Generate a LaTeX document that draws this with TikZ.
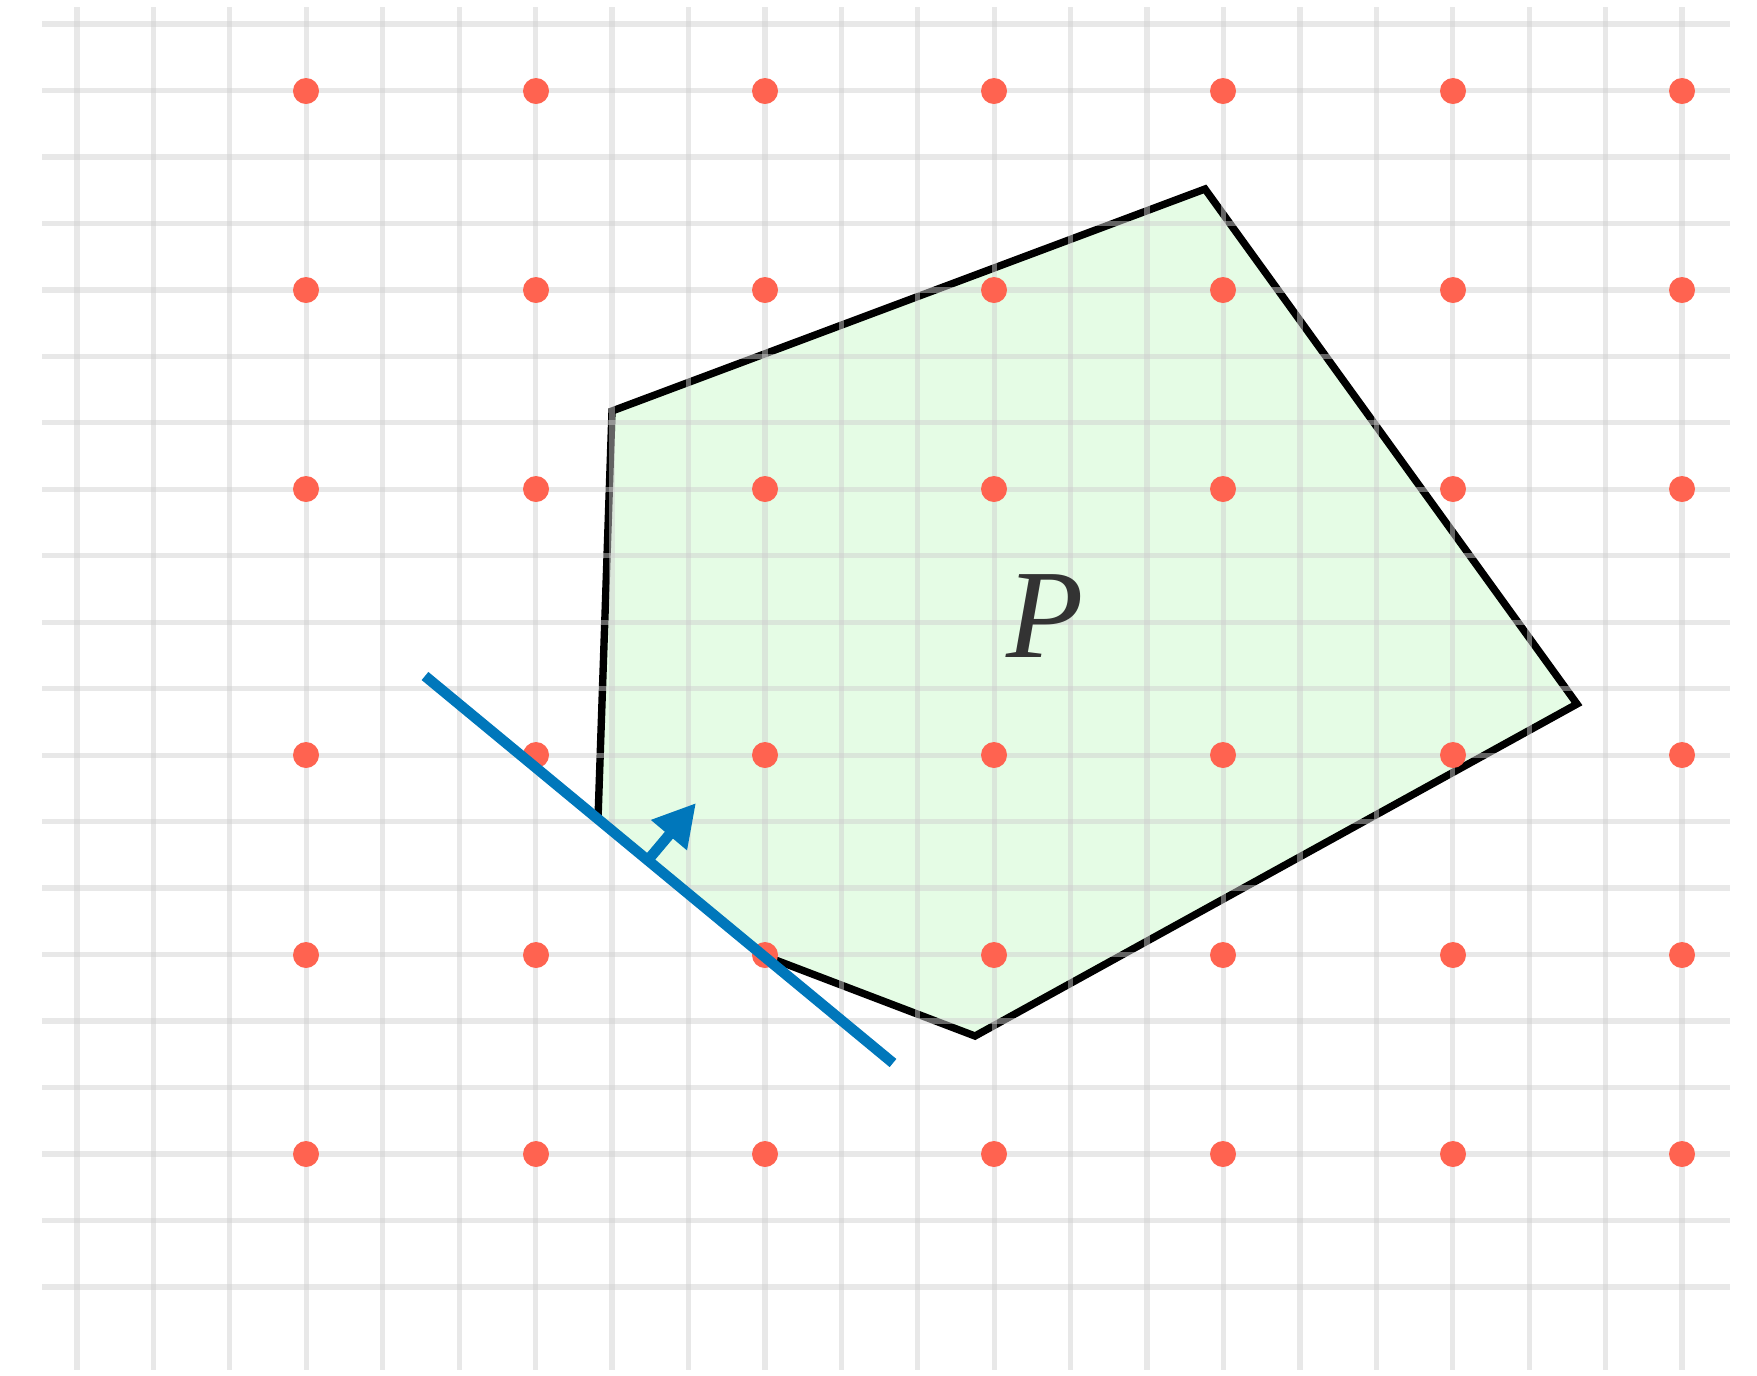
\documentclass[tikz,border=0pt]{standalone}
\usepackage{fontspec}
\setmainfont{Liberation Serif}
\usetikzlibrary{arrows.meta}

\definecolor{gridgray}{RGB}{207,207,207}
\definecolor{dotred}{RGB}{255,99,80}
\definecolor{cutblue}{RGB}{0,119,187}
\definecolor{polyfill}{RGB}{229,252,229}
\definecolor{labelgray}{RGB}{51,51,51}

\tikzset{
	gridline/.style={draw=gridgray, line width=1.5pt, opacity=0.48},
	lattice/.style={circle, fill=dotred, inner sep=0pt, minimum size=0.26cm},
	polyedge/.style={draw=black, line width=2.1pt, fill=polyfill, line join=miter},
	cutline/.style={draw=cutblue, line width=3pt},
}

\begin{document}
\begin{tikzpicture}[x=0.01cm, y=-0.01cm]
	\useasboundingbox (0,0) rectangle (1757,1375);
	
	% polygon P
	\coordinate (A) at (612,411);
	\coordinate (B) at (1205,189);
	\coordinate (C) at (1577,704);
	\coordinate (D) at (975,1036);
	\coordinate (E) at (765,956);
	\coordinate (F) at (598,819);
	\draw[polyedge] (A) -- (B) -- (C) -- (D) -- (E) -- (F) -- cycle;
	
	% grid
	\foreach \j in {0,...,21}
		\draw[gridline] ({77+76.43*\j},7) -- ({77+76.43*\j},1370);
	\foreach \k in {0,...,19}
		\draw[gridline] (42,{24+66.47*\k}) -- (1730,{24+66.47*\k});
	
	% lattice points
	\foreach \x [count=\i] in {306,536,765,994,1223,1453,1682}
		\foreach \y [count=\j] in {91,290,489,755,955,1154}
			\node[lattice] (p\i\j) at (\x,\y) {};
	
	\node (lab) at (1045,616) {\fontsize{36}{36}\selectfont\color{labelgray}\textit{P}};
	
	% cutting line and its normal
	\coordinate (h1) at (425,676);
	\coordinate (h2) at (893,1063);
	\coordinate (n0) at (648,860);
	\coordinate (n1) at (696,803);
	\draw[cutline] (h1) -- (h2);
	\draw[cutline, -{Triangle[length=0.42cm, width=0.44cm]}] (n0) -- (n1);
	
\end{tikzpicture}
\end{document}
